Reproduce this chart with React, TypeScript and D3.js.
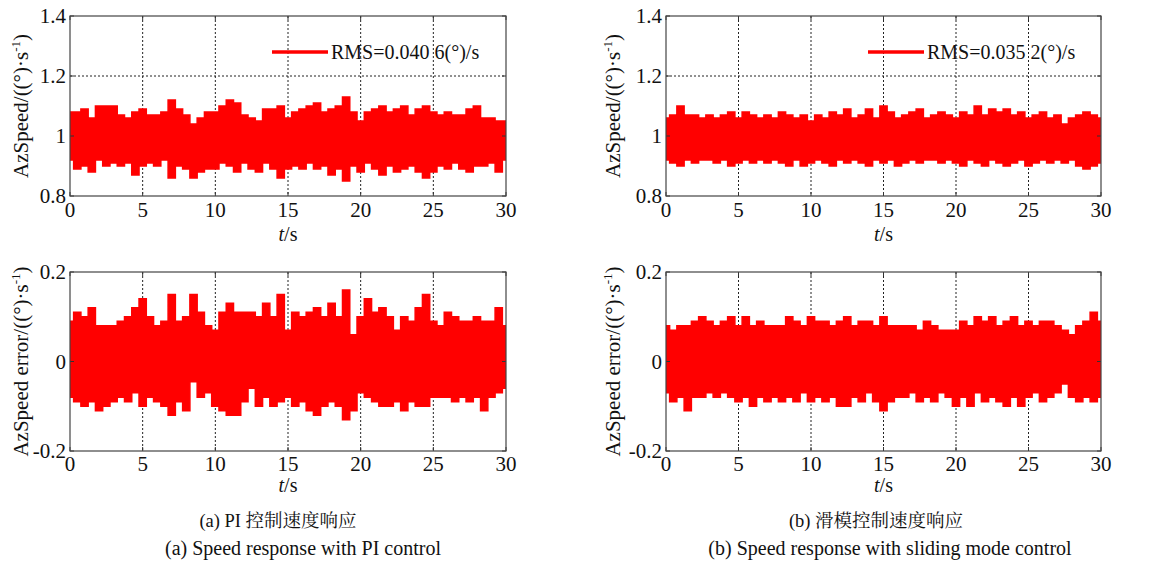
import React from "react";
import * as d3 from "d3";

// ---- data (envelopes of the noisy signals, every 0.5 s) ----
const timeSec = [
  0, 0.5, 1, 1.5, 2, 2.5, 3, 3.5, 4, 4.5, 5, 5.5, 6, 6.5, 7, 7.5, 8, 8.5, 9, 9.5,
  10, 10.5, 11, 11.5, 12, 12.5, 13, 13.5, 14, 14.5, 15, 15.5, 16, 16.5, 17, 17.5, 18, 18.5, 19, 19.5,
  20, 20.5, 21, 21.5, 22, 22.5, 23, 23.5, 24, 24.5, 25, 25.5, 26, 26.5, 27, 27.5, 28, 28.5, 29, 29.5, 30,
];

// (a) PI control — speed
const piSpeedUpper = [
  1.08, 1.08, 1.09, 1.06, 1.10, 1.10, 1.10, 1.07, 1.06, 1.08, 1.09, 1.07, 1.07, 1.08, 1.12, 1.09, 1.07, 1.04, 1.06, 1.08,
  1.08, 1.10, 1.12, 1.11, 1.07, 1.06, 1.05, 1.09, 1.09, 1.10, 1.06, 1.08, 1.09, 1.10, 1.11, 1.08, 1.09, 1.10, 1.13, 1.08,
  1.05, 1.08, 1.09, 1.10, 1.08, 1.09, 1.10, 1.07, 1.09, 1.10, 1.08, 1.07, 1.08, 1.07, 1.07, 1.09, 1.10, 1.06, 1.06, 1.05, 1.05,
];
const piSpeedLower = [
  0.92, 0.89, 0.90, 0.88, 0.92, 0.90, 0.91, 0.90, 0.91, 0.87, 0.90, 0.91, 0.90, 0.92, 0.86, 0.90, 0.89, 0.86, 0.88, 0.89,
  0.89, 0.91, 0.90, 0.88, 0.91, 0.89, 0.88, 0.91, 0.89, 0.86, 0.89, 0.90, 0.89, 0.91, 0.89, 0.90, 0.87, 0.89, 0.85, 0.90,
  0.88, 0.91, 0.89, 0.87, 0.90, 0.88, 0.89, 0.90, 0.88, 0.86, 0.88, 0.90, 0.89, 0.91, 0.89, 0.88, 0.90, 0.90, 0.91, 0.88, 0.92,
];
// (a) PI control — error
const piErrorUpper = [
  0.09, 0.11, 0.10, 0.12, 0.08, 0.08, 0.08, 0.09, 0.10, 0.12, 0.14, 0.10, 0.08, 0.09, 0.15, 0.09, 0.10, 0.15, 0.11, 0.08,
  0.07, 0.11, 0.13, 0.11, 0.11, 0.11, 0.10, 0.13, 0.10, 0.15, 0.07, 0.11, 0.10, 0.11, 0.12, 0.10, 0.13, 0.10, 0.16, 0.06,
  0.10, 0.14, 0.11, 0.12, 0.10, 0.07, 0.10, 0.09, 0.12, 0.15, 0.09, 0.08, 0.11, 0.10, 0.09, 0.09, 0.10, 0.09, 0.09, 0.12, 0.08,
];
const piErrorLower = [
  -0.08, -0.09, -0.10, -0.09, -0.11, -0.10, -0.09, -0.08, -0.09, -0.07, -0.10, -0.08, -0.09, -0.10, -0.12, -0.09, -0.11, -0.045, -0.08, -0.07,
  -0.10, -0.11, -0.12, -0.12, -0.09, -0.06, -0.10, -0.08, -0.10, -0.09, -0.08, -0.10, -0.09, -0.11, -0.12, -0.10, -0.09, -0.10, -0.13, -0.11,
  -0.07, -0.08, -0.09, -0.10, -0.10, -0.09, -0.11, -0.09, -0.10, -0.10, -0.08, -0.08, -0.08, -0.09, -0.08, -0.09, -0.08, -0.11, -0.08, -0.07, -0.06,
];
// (b) sliding mode control — speed
const smcSpeedUpper = [
  1.06, 1.07, 1.10, 1.07, 1.07, 1.06, 1.07, 1.06, 1.07, 1.08, 1.06, 1.08, 1.07, 1.06, 1.07, 1.06, 1.08, 1.07, 1.06, 1.07,
  1.05, 1.07, 1.06, 1.08, 1.07, 1.09, 1.06, 1.07, 1.09, 1.06, 1.10, 1.08, 1.06, 1.07, 1.08, 1.09, 1.06, 1.07, 1.08, 1.07,
  1.06, 1.08, 1.07, 1.10, 1.07, 1.09, 1.08, 1.09, 1.07, 1.08, 1.06, 1.07, 1.08, 1.06, 1.07, 1.04, 1.06, 1.07, 1.08, 1.07, 1.06,
];
const smcSpeedLower = [
  0.92, 0.91, 0.90, 0.92, 0.91, 0.92, 0.92, 0.91, 0.92, 0.90, 0.91, 0.92, 0.91, 0.92, 0.91, 0.92, 0.91, 0.90, 0.92, 0.90,
  0.91, 0.92, 0.91, 0.90, 0.92, 0.91, 0.92, 0.91, 0.90, 0.92, 0.91, 0.92, 0.90, 0.91, 0.92, 0.91, 0.92, 0.92, 0.91, 0.92,
  0.91, 0.90, 0.92, 0.91, 0.90, 0.92, 0.91, 0.90, 0.91, 0.92, 0.90, 0.91, 0.92, 0.91, 0.92, 0.91, 0.92, 0.90, 0.89, 0.90, 0.91,
];
// (b) sliding mode control — error
const smcErrorUpper = [
  0.08, 0.07, 0.08, 0.08, 0.09, 0.10, 0.09, 0.08, 0.09, 0.10, 0.08, 0.10, 0.08, 0.09, 0.08, 0.08, 0.08, 0.10, 0.09, 0.08,
  0.10, 0.09, 0.09, 0.08, 0.09, 0.10, 0.08, 0.09, 0.09, 0.08, 0.10, 0.08, 0.08, 0.08, 0.08, 0.07, 0.09, 0.08, 0.07, 0.07,
  0.07, 0.09, 0.08, 0.10, 0.09, 0.10, 0.08, 0.09, 0.10, 0.08, 0.09, 0.08, 0.09, 0.09, 0.08, 0.07, 0.06, 0.08, 0.09, 0.11, 0.09,
];
const smcErrorLower = [
  -0.07, -0.09, -0.08, -0.11, -0.08, -0.08, -0.07, -0.08, -0.07, -0.08, -0.09, -0.08, -0.10, -0.08, -0.09, -0.08, -0.09, -0.08, -0.09, -0.07,
  -0.09, -0.08, -0.09, -0.08, -0.10, -0.10, -0.08, -0.09, -0.07, -0.09, -0.11, -0.09, -0.08, -0.08, -0.07, -0.09, -0.08, -0.09, -0.07, -0.08,
  -0.10, -0.08, -0.10, -0.07, -0.09, -0.08, -0.09, -0.10, -0.08, -0.10, -0.08, -0.07, -0.09, -0.08, -0.07, -0.05, -0.08, -0.09, -0.08, -0.09, -0.08,
];

const xTicks = [0, 5, 10, 15, 20, 25, 30];
const speedTicks = [0.8, 1, 1.2, 1.4];
const errorTicks = [-0.2, 0, 0.2];

const legendTexts = ["RMS=0.040 6(°)/s", "RMS=0.035 2(°)/s"];
const captionsZh = ["(a) PI 控制速度响应", "(b) 滑模控制速度响应"];
const captionsEn = ["(a) Speed response with PI control", "(b) Speed response with sliding mode control"];

const FONT = "'Liberation Serif', 'Times New Roman', 'Noto Serif CJK SC', 'Noto Sans CJK SC', serif";
const RED = "#ff0000";

type PanelProps = {
  id: string;
  left: number;
  right: number;
  top: number;
  bottom: number;
  domain: [number, number];
  yTicks: number[];
  upper: number[];
  lower: number[];
  yLabel: string;
  yLabelX: number;
  legend?: string;
  xLabelY: number;
  tickLabelDy: number;
};

function Panel(p: PanelProps) {
  const x = d3.scaleLinear().domain([0, 30]).range([p.left, p.right]);
  const y = d3.scaleLinear().domain(p.domain).range([p.bottom, p.top]);
  const area = d3
    .area<number>()
    .x((_, i) => x(timeSec[i]))
    .y0((_, i) => y(p.lower[i]))
    .y1((_, i) => y(p.upper[i]))
    .curve(d3.curveStep);
  const fmt = (v: number) => (Math.abs(v) < 1e-9 ? "0" : String(v));
  const cy = (p.top + p.bottom) / 2;
  return (
    <g>
      <defs>
        <clipPath id={p.id}>
          <rect x={p.left} y={p.top} width={p.right - p.left} height={p.bottom - p.top} />
        </clipPath>
      </defs>
      <rect x={p.left} y={p.top} width={p.right - p.left} height={p.bottom - p.top} fill="#fff" />
      {/* grid */}
      {xTicks.slice(1, -1).map((t) => (
        <line key={"gx" + t} x1={x(t)} x2={x(t)} y1={p.top} y2={p.bottom} stroke="#222" strokeWidth={1} strokeDasharray="2,2" />
      ))}
      {p.yTicks.slice(1, -1).map((t) => (
        <line key={"gy" + t} x1={p.left} x2={p.right} y1={y(t)} y2={y(t)} stroke="#222" strokeWidth={1} strokeDasharray="2,2" />
      ))}
      {/* signal */}
      <path d={area(timeSec) || ""} fill={RED} stroke={RED} strokeWidth={1.5} clipPath={`url(#${p.id})`} />
      {/* ticks */}
      {xTicks.map((t) => (
        <g key={"tx" + t}>
          <line x1={x(t)} x2={x(t)} y1={p.bottom} y2={p.bottom - 4} stroke="#333" />
          <line x1={x(t)} x2={x(t)} y1={p.top} y2={p.top + 4} stroke="#333" />
          <text x={x(t)} y={p.bottom + p.tickLabelDy} textAnchor="middle" fontSize={21} fontFamily={FONT} fill="#111">
            {t}
          </text>
        </g>
      ))}
      {p.yTicks.map((t) => (
        <g key={"ty" + t}>
          <line x1={p.left} x2={p.left + 4} y1={y(t)} y2={y(t)} stroke="#333" />
          <line x1={p.right} x2={p.right - 4} y1={y(t)} y2={y(t)} stroke="#333" />
          <text x={p.left - 4} y={y(t)} dy="0.35em" textAnchor="end" fontSize={21} fontFamily={FONT} fill="#111">
            {fmt(t)}
          </text>
        </g>
      ))}
      <rect x={p.left} y={p.top} width={p.right - p.left} height={p.bottom - p.top} fill="none" stroke="#444" strokeWidth={1.2} />
      {/* axis labels */}
      <text x={(p.left + p.right) / 2} y={p.xLabelY} textAnchor="middle" fontSize={20} fontFamily={FONT} fill="#111">
        <tspan fontStyle="italic">t</tspan>/s
      </text>
      <text
        transform={`translate(${p.yLabelX},${cy}) rotate(-90)`}
        textAnchor="middle"
        fontSize={21}
        fontFamily={FONT}
        fill="#111"
      >
        {p.yLabel}
        <tspan dy="-8" fontSize={13}>-1</tspan>
        <tspan dy="8">)</tspan>
      </text>
      {p.legend && (
        <g>
          <line x1={p.left + 202} x2={p.left + 258} y1={52} y2={52} stroke={RED} strokeWidth={3.5} />
          <text x={p.left + 261} y={59} fontSize={20} fontFamily={FONT} fill="#111">
            {p.legend}
          </text>
        </g>
      )}
    </g>
  );
}

export default function App() {
  const cols = [
    { left: 70, right: 506, ylx: 28 },
    { left: 666, right: 1101, ylx: 620 },
  ];
  const speedUpper = [piSpeedUpper, smcSpeedUpper];
  const speedLower = [piSpeedLower, smcSpeedLower];
  const errUpper = [piErrorUpper, smcErrorUpper];
  const errLower = [piErrorLower, smcErrorLower];
  const capZhX = [278, 876];
  const capEnX = [303, 890];
  return (
    <svg width={1151} height={562} style={{ position: "absolute", left: 0, top: 0, background: "#fff" }}>
      <rect x={0} y={0} width={1151} height={562} fill="#fff" />
      {cols.map((c, i) => (
        <g key={i}>
          <Panel
            id={`clipS${i}`}
            left={c.left}
            right={c.right}
            top={16}
            bottom={196}
            domain={[0.8, 1.4]}
            yTicks={speedTicks}
            upper={speedUpper[i]}
            lower={speedLower[i]}
            yLabel="AzSpeed/((°)·s"
            yLabelX={c.ylx}
            legend={legendTexts[i]}
            xLabelY={241}
            tickLabelDy={21}
          />
          <Panel
            id={`clipE${i}`}
            left={c.left}
            right={c.right}
            top={272}
            bottom={451}
            domain={[-0.2, 0.2]}
            yTicks={errorTicks}
            upper={errUpper[i]}
            lower={errLower[i]}
            yLabel="AzSpeed error/((°)·s"
            yLabelX={c.ylx}
            xLabelY={492}
            tickLabelDy={20}
          />
          <text x={capZhX[i]} y={527} textAnchor="middle" fontSize={18.5} fontFamily={FONT} fill="#111">
            {captionsZh[i]}
          </text>
          <text x={capEnX[i]} y={555} textAnchor="middle" fontSize={20} fontFamily={FONT} fill="#111">
            {captionsEn[i]}
          </text>
        </g>
      ))}
    </svg>
  );
}
